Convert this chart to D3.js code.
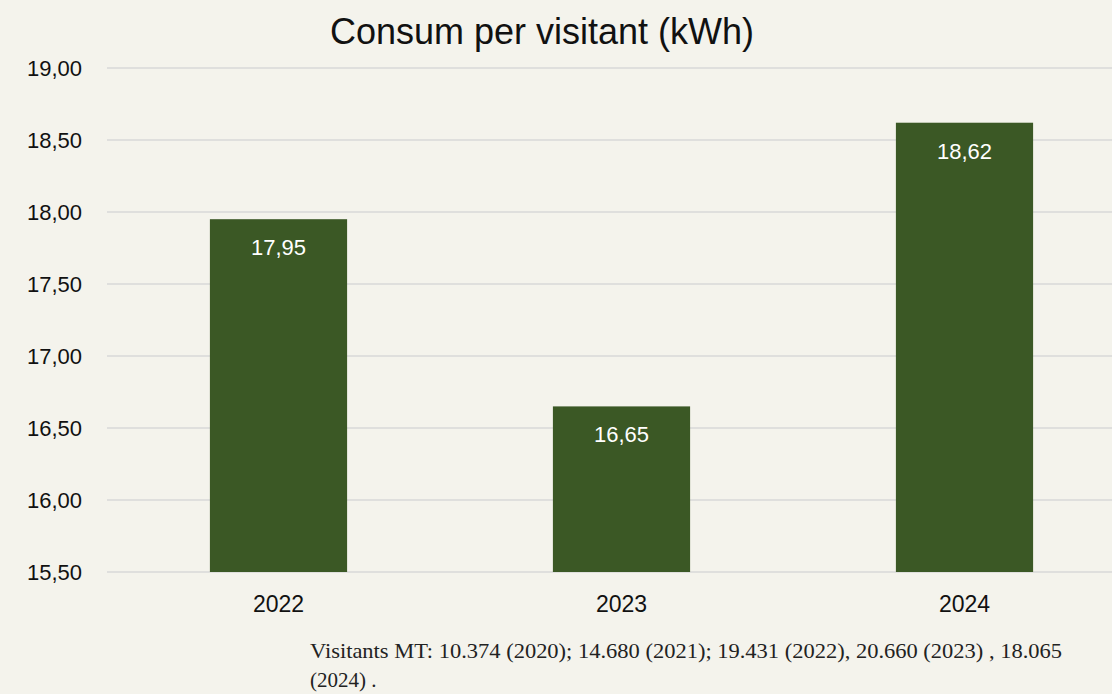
<!DOCTYPE html>
<html>
<head>
<meta charset="utf-8">
<script src="https://cdn.jsdelivr.net/npm/d3@7"></script>
<style>
  html, body { margin: 0; padding: 0; background: #f4f3ec; }
  svg { display: block; }
</style>
</head>
<body>
<div id="chart"></div>
<script>
const years = ['2022', '2023', '2024']
const consum = [17.95, 16.65, 18.62]
const yTicks = [15.5, 16, 16.5, 17, 17.5, 18, 18.5, 19]
const title = 'Consum per visitant (kWh)'
const noteLines = [
  'Visitants MT: 10.374 (2020); 14.680 (2021); 19.431 (2022), 20.660 (2023) , 18.065',
  '(2024) .'
]

;(() => {
  let width = 1112
  let height = 694

  let svg = d3.select('#chart')
              .append('svg')
                .attr('width', width)
                .attr('height', height)

  svg.append('rect')
      .attr('width', width)
      .attr('height', height)
      .attr('fill', '#f4f3ec')

  let fmt = (v) => v.toFixed(2).replace('.', ',')

  let xScale = d3.scaleBand()
                .domain(years)
                .range([107, 1136])
                .paddingInner(0.6)
                .paddingOuter(0.3)

  let yScale = d3.scaleLinear()
                .domain([15.5, 19])
                .range([572, 68])

  // gridlines
  svg.append('g')
    .selectAll('line')
    .data(yTicks)
    .enter()
    .append('line')
      .attr('x1', 107)
      .attr('x2', width)
      .attr('y1', (d) => yScale(d))
      .attr('y2', (d) => yScale(d))
      .attr('stroke', '#d9d9d9')
      .attr('stroke-width', 1.5)

  // y labels
  svg.append('g')
    .selectAll('text')
    .data(yTicks)
    .enter()
    .append('text')
      .text((d) => fmt(d))
      .attr('x', 82)
      .attr('y', (d) => yScale(d) + 8)
      .attr('text-anchor', 'end')
      .attr('font-family', 'Liberation Sans, Arial, sans-serif')
      .attr('font-size', 22)
      .attr('fill', '#111')

  // bars
  svg.append('g')
    .selectAll('rect')
    .data(consum)
    .enter()
    .append('rect')
      .attr('x', (d, i) => xScale(years[i]))
      .attr('y', (d) => yScale(d))
      .attr('width', xScale.bandwidth())
      .attr('height', (d) => yScale(15.5) - yScale(d))
      .attr('fill', '#3b5825')

  // value labels
  svg.append('g')
    .selectAll('text')
    .data(consum)
    .enter()
    .append('text')
      .text((d) => fmt(d))
      .attr('x', (d, i) => xScale(years[i]) + xScale.bandwidth() / 2)
      .attr('y', (d) => yScale(d) + 36)
      .attr('text-anchor', 'middle')
      .attr('font-family', 'Liberation Sans, Arial, sans-serif')
      .attr('font-size', 22)
      .attr('fill', '#ffffff')

  // x labels
  svg.append('g')
    .selectAll('text')
    .data(years)
    .enter()
    .append('text')
      .text((d) => d)
      .attr('x', (d) => xScale(d) + xScale.bandwidth() / 2)
      .attr('y', 612)
      .attr('text-anchor', 'middle')
      .attr('font-family', 'Liberation Sans, Arial, sans-serif')
      .attr('font-size', 23)
      .attr('fill', '#111')

  svg.append('text')
      .text(title)
      .attr('x', 542)
      .attr('y', 44)
      .attr('text-anchor', 'middle')
      .attr('font-family', 'Liberation Sans, Arial, sans-serif')
      .attr('font-size', 36)
      .attr('fill', '#111')

  svg.append('g')
    .selectAll('text')
    .data(noteLines)
    .enter()
    .append('text')
      .text((d) => d)
      .attr('x', 310)
      .attr('y', (d, i) => 658 + i * 29)
      .attr('font-family', 'Liberation Serif, serif')
      .attr('font-size', 21)
      .attr('fill', '#222')
      .attr('textLength', (d, i) => i === 0 ? 752 : null)
      .attr('lengthAdjust', 'spacingAndGlyphs')
})()
</script>
</body>
</html>
